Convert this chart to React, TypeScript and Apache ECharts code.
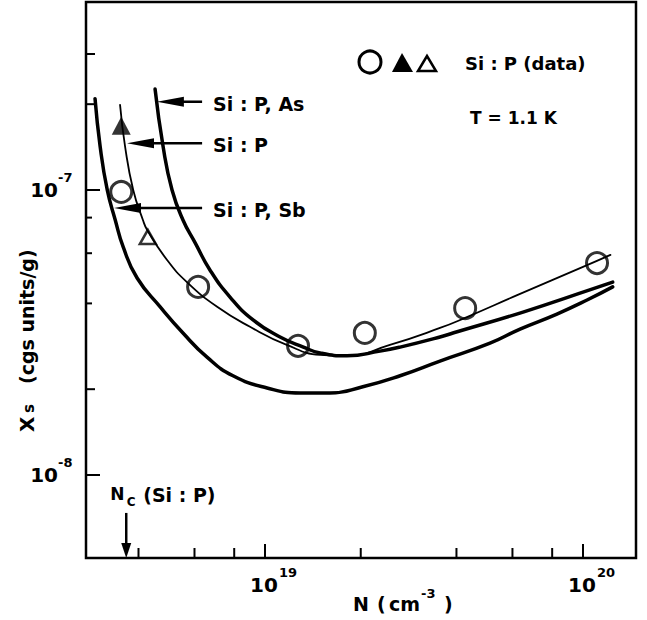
import React, { useEffect, useRef } from 'react';
import * as echarts from 'echarts';

const FONT = 'DejaVu Sans';

// axis ranges (log scales)
const X_MIN = 2.735e18;
const X_MAX = 1.468e20;
const Y_MIN = 5.114e-9;
const Y_MAX = 4.566e-7;

// theory curves
const curveSiPAs: number[][] = [
  [4.51e18, 2.26e-7], [4.78e18, 1.42e-7], [5.1e18, 1.0e-7], [5.52e18, 7.85e-8],
  [6.03e18, 6.52e-8], [6.71e18, 5.24e-8], [7.76e18, 4.21e-8], [9.17e18, 3.5e-8],
  [1.115e19, 3.05e-8], [1.32e19, 2.81e-8], [1.49e19, 2.68e-8], [1.81e19, 2.62e-8],
  [2.3e19, 2.72e-8], [2.66e19, 2.81e-8], [3.55e19, 3.05e-8], [4.02e19, 3.18e-8],
  [6.48e19, 3.73e-8], [1.05e20, 4.46e-8], [1.24e20, 4.75e-8],
];
const curveSiP: number[][] = [
  [3.5e18, 1.99e-7], [3.63e18, 1.42e-7], [3.85e18, 1.0e-7], [4.13e18, 7.85e-8],
  [4.26e18, 7.24e-8], [4.92e18, 5.68e-8], [5.68e18, 4.75e-8], [7.07e18, 3.89e-8],
  [8.97e18, 3.31e-8], [1.17e19, 2.86e-8], [1.49e19, 2.64e-8], [1.81e19, 2.62e-8],
  [2.47e19, 2.86e-8], [3.55e19, 3.28e-8], [4.26e19, 3.56e-8], [6.34e19, 4.32e-8],
  [1.0e20, 5.37e-8], [1.22e20, 5.92e-8],
];
const curveSiPSb: number[][] = [
  [2.92e18, 2.09e-7], [3.03e18, 1.42e-7], [3.19e18, 1.0e-7], [3.38e18, 7.85e-8],
  [3.58e18, 6.31e-8], [3.96e18, 4.91e-8], [4.68e18, 3.89e-8], [5.52e18, 3.15e-8],
  [6.57e18, 2.59e-8], [7.93e18, 2.23e-8], [1.015e19, 2.02e-8], [1.29e19, 1.94e-8],
  [1.6e19, 1.94e-8], [2.03e19, 2.04e-8], [2.66e19, 2.23e-8],
  [3.55e19, 2.51e-8], [5.1e19, 2.9e-8], [6.34e19, 3.25e-8], [8.28e19, 3.67e-8],
  [1.03e20, 4.11e-8], [1.24e20, 4.57e-8],
];

// measured Si:P data
const dataCircles: number[][] = [
  [3.53e18, 9.84e-8], [6.16e18, 4.57e-8], [1.27e19, 2.84e-8],
  [2.06e19, 3.15e-8], [4.26e19, 3.85e-8], [1.107e20, 5.54e-8],
];
const dataFilledTriangles: number[][] = [[3.53e18, 1.68e-7]];
const dataOpenTriangles: number[][] = [[4.28e18, 6.84e-8]];

// ticks
const xMajorTicks = [1e19, 1e20];
const xMajorExp = ['19', '20'];
const xMinorTicks = [4e18, 6e18, 8e18, 2e19, 4e19, 6e19, 8e19];
const yMajorTicks = [1e-7, 1e-8];
const yMajorExp = ['-7', '-8'];
const yMidTicks = [3e-7, 2e-7, 2e-8];
const yMinorTicks = [8e-8, 6e-8, 4e-8];

// annotations: [head x, y, tail x]
const curveLabels = ['Si : P, As', 'Si : P', 'Si : P, Sb'];
const curveArrows: number[][] = [
  [4.57e18, 2.04e-7, 6.34e18],
  [3.68e18, 1.46e-7, 6.34e18],
  [3.35e18, 8.65e-8, 6.34e18],
];
const ncArrow: number[][] = [[3.66e18, 7.36e-9]];

const txt = (text: string, x: number, y: number, size: number, extra: any = {}) => ({
  type: 'text',
  x,
  y,
  ...extra,
  style: {
    text,
    fontSize: size,
    fontWeight: 'bold',
    fontFamily: FONT,
    fill: '#000',
    align: 'left',
    verticalAlign: 'middle',
    ...(extra.style || {}),
  },
});

const lineSeries = (name: string, data: number[][], width: number) => ({
  name,
  type: 'line',
  data,
  showSymbol: false,
  symbol: 'none',
  smooth: 0.5,
  lineStyle: { color: '#000', width, cap: 'round', join: 'round' },
});

export default function App() {
  const ref = useRef<HTMLDivElement>(null);
  useEffect(() => {
    if (!ref.current) return;
    const chart = echarts.init(ref.current, undefined, { renderer: 'svg' });

    const xTickSeries = (vals: number[], len: number) => ({
      type: 'custom',
      clip: false,
      silent: true,
      z: 5,
      data: vals.map((v) => [v, Y_MIN]),
      encode: { x: 0, y: 1 },
      renderItem: (params: any, api: any) => {
        const cs = params.coordSys;
        const p = api.coord([api.value(0), Y_MIN]);
        const b = cs.y + cs.height;
        return {
          type: 'line',
          shape: { x1: p[0], y1: b, x2: p[0], y2: b - len },
          style: { stroke: '#000', lineWidth: 2 },
        };
      },
    });
    const yTickSeries = (vals: number[], len: number) => ({
      type: 'custom',
      clip: false,
      silent: true,
      z: 5,
      data: vals.map((v) => [X_MIN, v]),
      encode: { x: 0, y: 1 },
      renderItem: (params: any, api: any) => {
        const cs = params.coordSys;
        const p = api.coord([X_MIN, api.value(1)]);
        return {
          type: 'line',
          shape: { x1: cs.x, y1: p[1], x2: cs.x + len, y2: p[1] },
          style: { stroke: '#000', lineWidth: 2 },
        };
      },
    });

    const option: any = {
      animation: false,
      backgroundColor: '#fff',
      grid: {
        left: 86,
        right: 11,
        top: 2,
        bottom: 62,
        show: true,
        borderColor: '#000',
        borderWidth: 2.5,
        backgroundColor: 'transparent',
      },
      xAxis: {
        type: 'log',
        logBase: 10,
        min: X_MIN,
        max: X_MAX,
        axisLine: { show: false },
        axisTick: { show: false },
        axisLabel: { show: false },
        splitLine: { show: false },
      },
      yAxis: {
        type: 'log',
        logBase: 10,
        min: Y_MIN,
        max: Y_MAX,
        axisLine: { show: false },
        axisTick: { show: false },
        axisLabel: { show: false },
        splitLine: { show: false },
      },
      series: [
        lineSeries('Si:P, As', curveSiPAs, 3.5),
        lineSeries('Si:P', curveSiP, 1.8),
        lineSeries('Si:P, Sb', curveSiPSb, 3.5),
        {
          name: 'data circles',
          type: 'scatter',
          data: dataCircles,
          symbol: 'circle',
          symbolSize: 21,
          z: 4,
          itemStyle: { color: 'rgba(0,0,0,0)', borderColor: '#000', borderWidth: 3 },
        },
        {
          name: 'data filled triangles',
          type: 'scatter',
          data: dataFilledTriangles,
          symbol: 'triangle',
          symbolSize: [19, 18],
          z: 4,
          itemStyle: { color: '#000' },
        },
        {
          name: 'data open triangles',
          type: 'scatter',
          data: dataOpenTriangles,
          symbol: 'triangle',
          symbolSize: [16, 14],
          z: 4,
          itemStyle: { color: 'rgba(0,0,0,0)', borderColor: '#000', borderWidth: 2.5 },
        },
        xTickSeries(xMinorTicks, 10),
        xTickSeries(xMajorTicks, 14),
        yTickSeries(yMinorTicks, 6),
        yTickSeries(yMidTicks, 9),
        yTickSeries(yMajorTicks, 14),
        {
          // x tick labels 10^n
          type: 'custom',
          clip: false,
          silent: true,
          data: xMajorTicks.map((v) => [v, Y_MIN]),
          encode: { x: 0, y: 1 },
          renderItem: (params: any, api: any) => {
            const cs = params.coordSys;
            const p = api.coord([api.value(0), Y_MIN]);
            const b = cs.y + cs.height;
            return {
              type: 'group',
              children: [
                txt('10', p[0] - 15, b + 27, 20),
                txt(xMajorExp[params.dataIndex], p[0] + 14, b + 14, 13),
              ],
            };
          },
        },
        {
          // y tick labels 10^n
          type: 'custom',
          clip: false,
          silent: true,
          data: yMajorTicks.map((v) => [X_MIN, v]),
          encode: { x: 0, y: 1 },
          renderItem: (params: any, api: any) => {
            const cs = params.coordSys;
            const p = api.coord([X_MIN, api.value(1)]);
            return {
              type: 'group',
              children: [
                txt('10', cs.x - 28, p[1], 20, { style: { align: 'right' } }),
                txt(yMajorExp[params.dataIndex], cs.x - 28, p[1] - 12, 13),
              ],
            };
          },
        },
        {
          // curve labels with arrows
          type: 'custom',
          clip: false,
          silent: true,
          z: 6,
          data: curveArrows,
          encode: { x: 0, y: 1 },
          renderItem: (params: any, api: any) => {
            const head = api.coord([api.value(0), api.value(1)]);
            const tail = api.coord([api.value(2), api.value(1)]);
            const hl = 27;
            const hw = 5;
            return {
              type: 'group',
              children: [
                {
                  type: 'line',
                  shape: { x1: tail[0], y1: head[1], x2: head[0] + hl - 2, y2: head[1] },
                  style: { stroke: '#000', lineWidth: 2.5 },
                },
                {
                  type: 'polygon',
                  shape: {
                    points: [
                      [head[0], head[1]],
                      [head[0] + hl, head[1] - hw],
                      [head[0] + hl, head[1] + hw],
                    ],
                  },
                  style: { fill: '#000' },
                },
                txt(curveLabels[params.dataIndex], tail[0] + 11, head[1] + 2, 19),
              ],
            };
          },
        },
        {
          // N_c arrow
          type: 'custom',
          clip: false,
          silent: true,
          z: 6,
          data: ncArrow,
          encode: { x: 0, y: 1 },
          renderItem: (params: any, api: any) => {
            const cs = params.coordSys;
            const top = api.coord([api.value(0), api.value(1)]);
            const b = cs.y + cs.height;
            return {
              type: 'group',
              children: [
                {
                  type: 'line',
                  shape: { x1: top[0], y1: top[1], x2: top[0], y2: b - 12 },
                  style: { stroke: '#000', lineWidth: 2.5 },
                },
                {
                  type: 'polygon',
                  shape: {
                    points: [
                      [top[0], b],
                      [top[0] - 5, b - 15],
                      [top[0] + 5, b - 15],
                    ],
                  },
                  style: { fill: '#000' },
                },
                txt('N', top[0] - 16, top[1] - 19, 17),
                txt('C', top[0] + 0.5, top[1] - 11, 12),
                txt('(Si : P)', top[0] + 17, top[1] - 18, 19),
              ],
            };
          },
        },
      ],
      graphic: [
        // legend symbols
        {
          type: 'circle',
          shape: { cx: 370, cy: 62, r: 11 },
          style: { fill: 'none', stroke: '#000', lineWidth: 3 },
        },
        {
          type: 'polygon',
          shape: { points: [[402, 53], [392, 72], [413, 72]] },
          style: { fill: '#000' },
        },
        {
          type: 'polygon',
          shape: { points: [[427, 56], [418, 71], [436, 71]] },
          style: { fill: 'none', stroke: '#000', lineWidth: 2.5 },
        },
        txt('Si : P (data)', 465, 63, 18),
        txt('T = 1.1 K', 470, 118, 17),
        // x axis title
        txt('N', 353, 604, 19),
        txt('(', 377, 604, 19),
        txt('cm', 389, 604, 19),
        txt('-3', 421, 593, 13),
        txt(')', 444, 604, 19),
        // y axis title (rotated)
        txt('X', 27, 432, 20, { rotation: Math.PI / 2 }),
        txt('s', 29, 413, 15, { rotation: Math.PI / 2 }),
        txt('(cgs units/g)', 27, 384, 19, { rotation: Math.PI / 2 }),
      ],
    };

    chart.setOption(option);
    return () => chart.dispose();
  }, []);

  return (
    <div
      ref={ref}
      style={{ position: 'absolute', left: 0, top: 0, width: 647, height: 620, background: '#fff' }}
    />
  );
}
